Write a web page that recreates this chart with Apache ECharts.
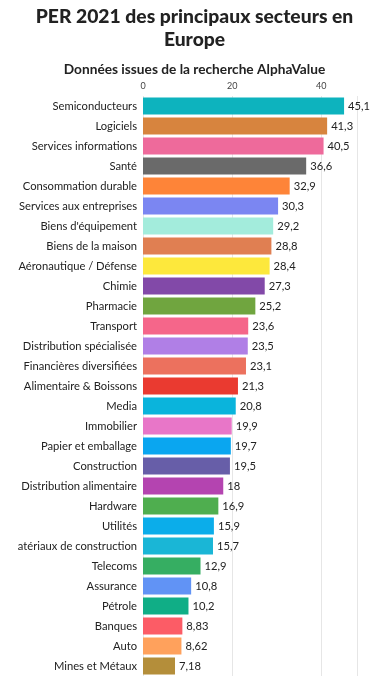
<!DOCTYPE html>
<html><head><meta charset="utf-8">
<script src="https://cdn.jsdelivr.net/npm/echarts@6/dist/echarts.min.js"></script>
<style>html,body{margin:0;padding:0;background:#fff}#c{width:389px;height:679px}</style>
</head><body><div id="c"></div>
<script>
const categories = ["Semiconducteurs","Logiciels","Services informations","Santé","Consommation durable","Services aux entreprises","Biens d'équipement","Biens de la maison","Aéronautique / Défense","Chimie","Pharmacie","Transport","Distribution spécialisée","Financières diversifiées","Alimentaire & Boissons","Media","Immobilier","Papier et emballage","Construction","Distribution alimentaire","Hardware","Utilités","atériaux de construction","Telecoms","Assurance","Pétrole","Banques","Auto","Mines et Métaux"];
const values = [45.1,41.3,40.5,36.6,32.9,30.3,29.2,28.8,28.4,27.3,25.2,23.6,23.5,23.1,21.3,20.8,19.9,19.7,19.5,18,16.9,15.9,15.7,12.9,10.8,10.2,8.83,8.62,7.18];
const colors = ["#0db3be","#d7843e","#ee6a9b","#6a6a6a","#fe8438","#7b86f2","#a3ecdc","#e07f52","#fde83c","#8249a8","#70a53f","#f5668a","#b07fe6","#ec715e","#ea3a30","#0ab4dc","#e876c8","#0aa6f0","#675ea8","#b444b0","#4fae4f","#0badea","#1ab6d6","#36ae62","#6193f5","#10ae86","#fc5c66","#ffa15c","#b48e3a"];
const xTicks = [0,20,40];

const chart = echarts.init(document.getElementById('c'));
const FONT = 'Lato';
chart.setOption({
  animation:false,
  title:[
    {text:'PER 2021 des principaux secteurs en\nEurope',left:'center',top:0,
     textStyle:{fontFamily:FONT,fontWeight:900,fontSize:19.3,color:'#222',lineHeight:23}},
    {text:'Données issues de la recherche AlphaValue',left:'center',top:58,
     textStyle:{fontFamily:FONT,fontWeight:'bold',fontSize:13.7,color:'#222'}}
  ],
  grid:{left:143,top:96,right:32,bottom:3,containLabel:false},
  xAxis:{type:'value',position:'top',min:0,max:48,interval:20,
    axisLine:{show:false},axisTick:{show:false},
    splitLine:{lineStyle:{color:'#e6e6e6',width:1}},
    axisLabel:{fontFamily:FONT,fontSize:9,color:'#444',margin:5,
      formatter:v=>xTicks.includes(v)?String(v):''}},
  yAxis:{type:'category',data:categories,inverse:true,
    axisLine:{show:false},axisTick:{show:false},
    axisLabel:{fontFamily:FONT,fontSize:11.2,color:'#222',margin:6}},
  series:[{type:'bar',barCategoryGap:'15%',
    data:values.map((v,i)=>({value:v,itemStyle:{color:colors[i]}})),
    label:{show:true,position:'right',distance:4,fontFamily:FONT,fontSize:11.2,color:'#222',
      formatter:p=>String(p.value).replace('.',',')}}]
});
</script></body></html>
